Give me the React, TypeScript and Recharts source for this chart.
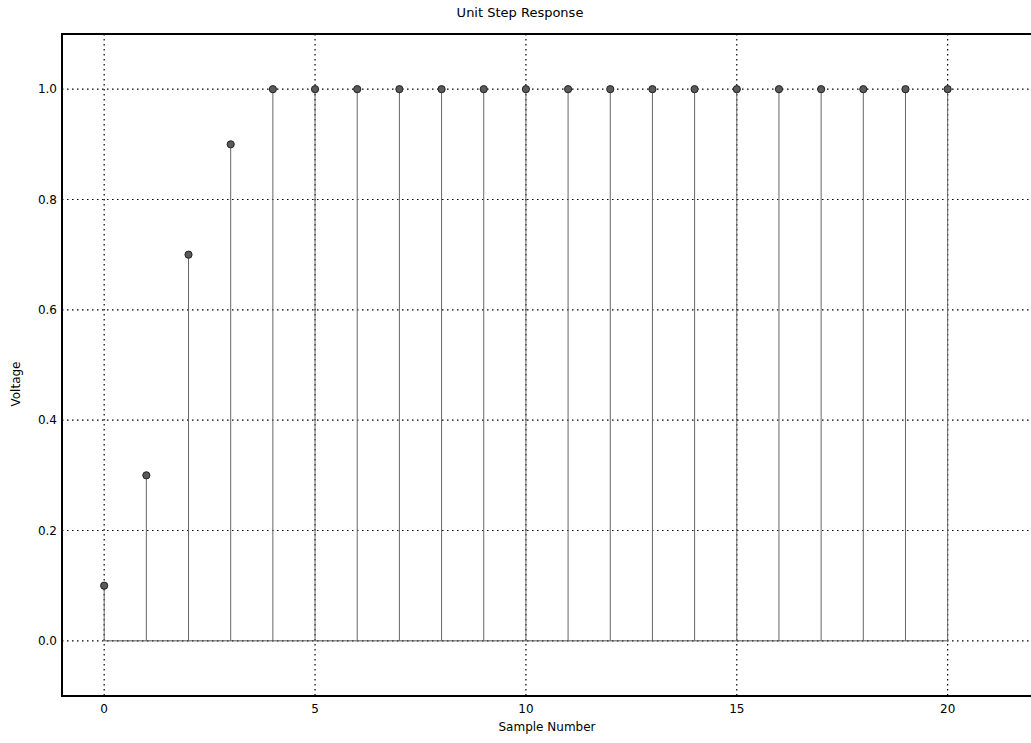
import React from 'react';
import {
  ComposedChart,
  Scatter,
  XAxis,
  YAxis,
  CartesianGrid,
  ReferenceLine,
  ReferenceArea,
} from 'recharts';

const samples = [0, 1, 2, 3, 4, 5, 6, 7, 8, 9, 10, 11, 12, 13, 14, 15, 16, 17, 18, 19, 20];
const voltages = [0.1, 0.3, 0.7, 0.9, 1.0, 1.0, 1.0, 1.0, 1.0, 1.0, 1.0, 1.0, 1.0, 1.0, 1.0, 1.0, 1.0, 1.0, 1.0, 1.0, 1.0];
const xTicks = [0, 5, 10, 15, 20];
const yTicks = [0.0, 0.2, 0.4, 0.6, 0.8, 1.0];
const xDomain = [-1, 22];
const yDomain = [-0.1, 1.1];

const data = samples.map((s, i) => ({ x: s, y: voltages[i] }));

const FONT = '"DejaVu Sans", sans-serif';

const Marker = (props: any) => {
  const { cx, cy } = props;
  if (cx == null || cy == null) return null;
  return <circle cx={cx} cy={cy} r={3.6} fill="#5a5a5a" stroke="#222" strokeWidth={1} />;
};

export default function App() {
  return (
    <div
      style={{
        position: 'absolute',
        left: 0,
        top: 0,
        width: 1031,
        height: 743,
        overflow: 'hidden',
        background: '#fff',
        fontFamily: FONT,
      }}
    >
      <ComposedChart
        width={1100}
        height={743}
        data={data}
        margin={{ top: 34, right: 68, bottom: 0, left: 0 }}
      >
        <CartesianGrid stroke="#000" strokeDasharray="1.5 3.5" strokeWidth={1.2} />
        <XAxis
          dataKey="x"
          type="number"
          domain={xDomain}
          ticks={xTicks}
          allowDataOverflow
          height={47}
          axisLine={{ stroke: '#000', strokeWidth: 2 }}
          tickLine={false}
          tickSize={4}
          tickMargin={4}
          tick={{ fill: '#000', fontSize: 12, fontFamily: FONT }}
          tickFormatter={(v: number) => String(v)}
        />
        <YAxis
          dataKey="y"
          type="number"
          domain={yDomain}
          ticks={yTicks}
          allowDataOverflow
          width={62}
          axisLine={{ stroke: '#000', strokeWidth: 2 }}
          tickLine={false}
          tickSize={4}
          tickMargin={1}
          tick={{ fill: '#000', fontSize: 12, fontFamily: FONT }}
          tickFormatter={(v: number) => v.toFixed(1)}
        />
        <ReferenceArea
          x1={xDomain[0]}
          x2={xDomain[1]}
          y1={yDomain[0]}
          y2={yDomain[1]}
          fill="none"
          stroke="#000"
          strokeWidth={2}
          ifOverflow="visible"
        />
        <ReferenceLine
          segment={[
            { x: samples[0], y: 0 },
            { x: samples[samples.length - 1], y: 0 },
          ]}
          stroke="#555"
          strokeWidth={1}
        />
        {data.map((d) => (
          <ReferenceLine
            key={d.x}
            segment={[
              { x: d.x, y: 0 },
              { x: d.x, y: d.y },
            ]}
            stroke="#666"
            strokeWidth={1}
          />
        ))}
        <Scatter dataKey="y" fill="#5a5a5a" shape={<Marker />} isAnimationActive={false} />
      </ComposedChart>
      <div
        style={{
          position: 'absolute',
          top: 5,
          left: 520,
          transform: 'translateX(-50%)',
          fontSize: 13,
          whiteSpace: 'nowrap',
          color: '#000',
        }}
      >
        Unit Step Response
      </div>
      <div
        style={{
          position: 'absolute',
          top: 720,
          left: 547,
          transform: 'translateX(-50%)',
          fontSize: 12,
          whiteSpace: 'nowrap',
          color: '#000',
        }}
      >
        Sample Number
      </div>
      <div
        style={{
          position: 'absolute',
          top: 384,
          left: 16,
          transform: 'translate(-50%, -50%) rotate(-90deg)',
          fontSize: 12,
          whiteSpace: 'nowrap',
          color: '#000',
        }}
      >
        Voltage
      </div>
    </div>
  );
}
